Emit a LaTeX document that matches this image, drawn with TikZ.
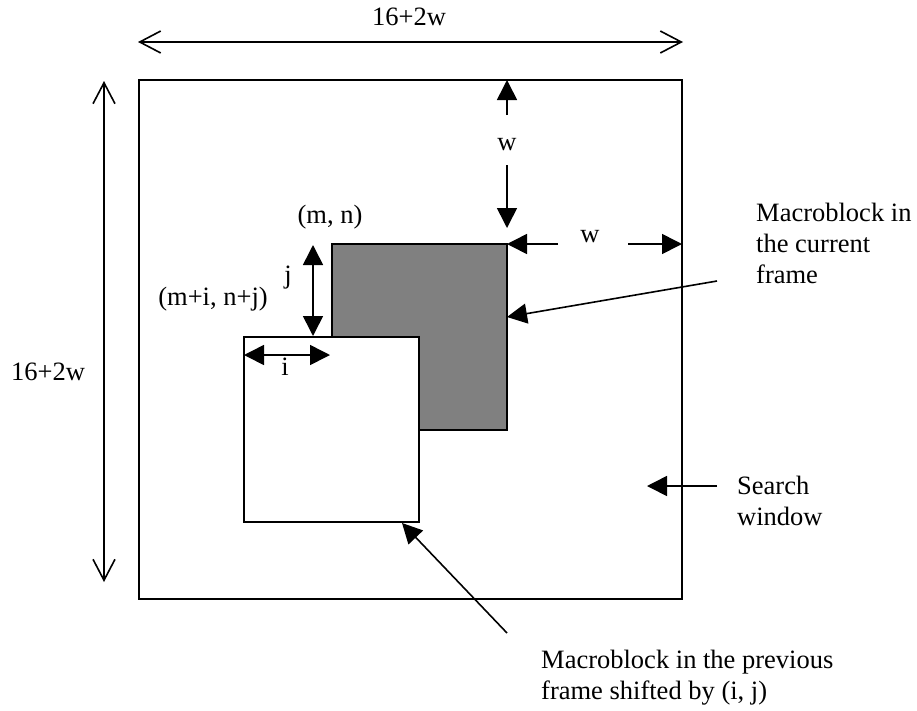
\documentclass[tikz,border=0pt]{standalone}
\usepackage{fontspec}
\setmainfont{Liberation Serif}
\usetikzlibrary{arrows.meta}
\begin{document}
\begin{tikzpicture}[x=1pt,y=-1pt,
  frame/.style={draw=black,line width=1.7pt},
  shaft/.style={line width=1.6pt},
  solidtip/.style={shaft,-{Triangle[length=20pt,width=20pt]}},
  solidboth/.style={shaft,{Triangle[length=20pt,width=20pt]}-{Triangle[length=20pt,width=20pt]}},
  openboth/.style={shaft,{Straight Barb[length=21pt,width=22pt,line width=1.6pt]}-{Straight Barb[length=21pt,width=22pt,line width=1.6pt]}},
  lbl/.style={font=\fontsize{26.5}{31}\selectfont,inner sep=0pt,anchor=base},
  note/.style={lbl,anchor=base west,align=left},
]
\useasboundingbox (0,0) rectangle (917,710);

% search window and the two macroblocks
\coordinate (winA) at (139,80);
\coordinate (winB) at (682,599);
\coordinate (curA) at (332,244);
\coordinate (curB) at (507,430);
\coordinate (prvA) at (244,337);
\coordinate (prvB) at (419,522);
\draw[frame] (winA) rectangle (winB);
\draw[frame,fill={rgb,255:red,128;green,128;blue,128}] (curA) rectangle (curB);
\draw[frame,fill=white] (prvA) rectangle (prvB);

% overall size 16+2w
\coordinate (topL) at (138,42);
\coordinate (topR) at (683,42);
\draw[openboth] (topL) -- (topR);
\node[lbl] (topLbl) at (409,25) {16+2w};
\coordinate (sideT) at (104,81);
\coordinate (sideB) at (104,582);
\draw[openboth] (sideT) -- (sideB);
\node[lbl,anchor=base west] (sideLbl) at (11,380) {16+2w};

% border width w, vertical
\coordinate (wvUpS) at (507,115);
\coordinate (wvUpE) at (507,80);
\coordinate (wvDnS) at (507,165);
\coordinate (wvDnE) at (507,228);
\draw[solidtip] (wvUpS) -- (wvUpE);
\draw[solidtip] (wvDnS) -- (wvDnE);
\node[lbl] (wvLbl) at (507,150) {w};

% border width w, horizontal
\coordinate (whLS) at (558,244);
\coordinate (whLE) at (507,244);
\coordinate (whRS) at (628,244);
\coordinate (whRE) at (682,244);
\draw[solidtip] (whLS) -- (whLE);
\draw[solidtip] (whRS) -- (whRE);
\node[lbl] (whLbl) at (590,242) {w};

% displacement (i, j)
\coordinate (jT) at (313,245);
\coordinate (jB) at (313,336);
\draw[solidboth] (jT) -- (jB);
\node[lbl] (jLbl) at (288,283) {j};
\coordinate (iL) at (244,355);
\coordinate (iR) at (330,355);
\draw[solidboth] (iL) -- (iR);
\node[lbl] (iLbl) at (285,375) {i};

\node[lbl] (mn) at (330,223) {(m, n)};
\node[lbl] (mnij) at (213,305) {(m+i, n+j)};

% callouts (anchored at the baseline of their last line)
\node[note] (curTxt) at (756,283) {Macroblock in\\the current\\frame};
\coordinate (curS) at (717,281);
\coordinate (curE) at (507,317);
\draw[solidtip] (curS) -- (curE);

\node[note] (winTxt) at (737,525) {Search\\window};
\coordinate (winS) at (717,486);
\coordinate (winE) at (647,486);
\draw[solidtip] (winS) -- (winE);

\node[note] (prvTxt) at (541,699) {Macroblock in the previous\\frame shifted by (i, j)};
\coordinate (prvS) at (507,633);
\coordinate (prvE) at (402,523);
\draw[solidtip] (prvS) -- (prvE);
\end{tikzpicture}
\end{document}
